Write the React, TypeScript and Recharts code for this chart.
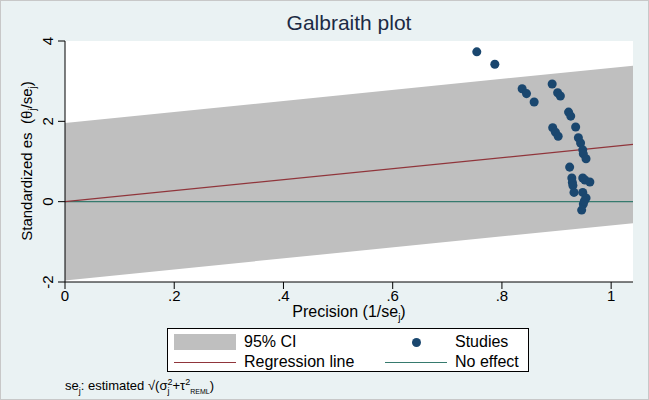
import { ComposedChart, Area, Line, Scatter, XAxis, YAxis, CartesianGrid } from 'recharts';

// study estimates: precision (1/se_j) and standardized effect (theta_j/se_j)
const studyPrecision = [
  0.754, 0.787, 0.837, 0.845, 0.859, 0.892, 0.902, 0.907,
  0.922, 0.926, 0.935, 0.893, 0.898, 0.903, 0.940, 0.944,
  0.948, 0.949, 0.954, 0.924, 0.928, 0.929, 0.930, 0.948,
  0.952, 0.961, 0.932, 0.948, 0.954, 0.949, 0.946, 0.951,
];
const studyZ = [
  3.73, 3.42, 2.81, 2.69, 2.48, 2.93, 2.71, 2.63,
  2.23, 2.13, 1.86, 1.84, 1.73, 1.63, 1.59, 1.46,
  1.29, 1.19, 1.07, 0.86, 0.59, 0.48, 0.40, 0.59,
  0.54, 0.49, 0.23, 0.23, 0.09, -0.06, -0.21, 0.02,
];

// fitted regression through origin and the 95% band around it
const regSlope = 1.37;
const ciHalf = 1.96;
const lineX = [0, 1.04];

const xTicks = [0, 0.2, 0.4, 0.6, 0.8, 1];
const yTicks = [-2, 0, 2, 4];

const NAVY = '#1a476f';
const MAROON = '#90353b';
const TEAL = '#367a6e';
const CI_GRAY = '#bfbfbf';

const points = studyPrecision.map((x, i) => ({ x, y: studyZ[i] }));
const lineData = lineX.map((x) => ({
  x,
  band: [regSlope * x - ciHalf, regSlope * x + ciHalf],
  reg: regSlope * x,
  zero: 0,
}));

const fmtX = (v: number) => (v === 0 ? '0' : v === 1 ? '1' : String(v).replace(/^0/, ''));

const YTick = ({ x, y, payload }: any) => (
  <text
    x={x - 2}
    y={y}
    transform={`rotate(-90 ${x - 2} ${y})`}
    textAnchor="middle"
    fontSize={15}
    fill="#000"
    fontFamily="Arial, 'Liberation Sans', sans-serif"
  >
    {payload.value}
  </text>
);

export default function App() {
  const font = "Arial, 'Liberation Sans', sans-serif";
  return (
    <div
      style={{
        position: 'relative',
        width: 649,
        height: 400,
        background: '#eaf2f3',
        boxShadow: 'inset 0 0 0 1px #c8c8c8',
        fontFamily: font,
        overflow: 'hidden',
      }}
    >
      <style>{'body{margin:0}'}</style>
      <div style={{ position: 'absolute', top: 11, left: 0, width: 698, textAlign: 'center', fontSize: 21, color: '#1c2a44' }}>
        Galbraith plot
      </div>

      <ComposedChart
        width={649}
        height={400}
        data={lineData}
        margin={{ top: 41, right: 16, bottom: 88, left: 0 }}
        style={{ position: 'absolute', top: 0, left: 0 }}
      >
        <CartesianGrid fill="#fff" horizontal={false} vertical={false} />
        <XAxis
          type="number"
          dataKey="x"
          domain={[0, 1.04]}
          ticks={xTicks}
          tickFormatter={fmtX}
          allowDataOverflow
          height={30}
          tickSize={7}
          tickMargin={1}
          tick={{ fontSize: 15, fill: '#000', fontFamily: font }}
          stroke="#000"
        />
        <YAxis
          type="number"
          domain={[-2, 4]}
          ticks={yTicks}
          width={65}
          tickSize={7}
          tickMargin={3}
          tick={<YTick />}
          stroke="#000"
        />
        <Area
          type="linear"
          dataKey="band"
          fill={CI_GRAY}
          fillOpacity={1}
          stroke="none"
          isAnimationActive={false}
        />
        <Line type="linear" dataKey="zero" stroke={TEAL} strokeWidth={1.2} dot={false} isAnimationActive={false} />
        <Line type="linear" dataKey="reg" stroke={MAROON} strokeWidth={1.2} dot={false} isAnimationActive={false} />
        <Scatter data={points} dataKey="y" fill={NAVY} isAnimationActive={false} />
      </ComposedChart>

      {/* y axis title */}
      <div
        style={{
          position: 'absolute',
          left: 28,
          top: 161,
          transform: 'translate(-50%, -50%) rotate(-90deg)',
          whiteSpace: 'nowrap',
          fontSize: 15,
          color: '#000',
        }}
      >
        Standardized es&nbsp;&nbsp;(θ<sub style={{ fontSize: 10 }}>j</sub>/se<sub style={{ fontSize: 10 }}>j</sub>)
      </div>

      {/* x axis title */}
      <div style={{ position: 'absolute', top: 303, left: 0, width: 698, textAlign: 'center', fontSize: 16, lineHeight: '18px', color: '#000', whiteSpace: 'nowrap' }}>
        Precision (1/se<sub style={{ fontSize: 10, lineHeight: 0 }}>j</sub>)
      </div>

      {/* legend */}
      <div
        style={{
          position: 'absolute',
          left: 167,
          top: 328,
          width: 362,
          height: 44,
          boxSizing: 'border-box',
          border: '1px solid #000',
          background: '#fff',
          fontSize: 16,
          color: '#000',
        }}
      >
        <div style={{ position: 'absolute', left: 6, top: 5, width: 62, height: 16, background: CI_GRAY }} />
        <div style={{ position: 'absolute', left: 76, top: 3, lineHeight: '19px' }}>95% CI</div>
        <div style={{ position: 'absolute', left: 244, top: 9, width: 9, height: 9, borderRadius: '50%', background: NAVY }} />
        <div style={{ position: 'absolute', left: 287, top: 3, lineHeight: '19px' }}>Studies</div>
        <div style={{ position: 'absolute', left: 6, top: 33, width: 62, height: 1.2, background: MAROON }} />
        <div style={{ position: 'absolute', left: 76, top: 23, lineHeight: '19px' }}>Regression line</div>
        <div style={{ position: 'absolute', left: 217, top: 33, width: 62, height: 1.2, background: TEAL }} />
        <div style={{ position: 'absolute', left: 287, top: 23, lineHeight: '19px' }}>No effect</div>
      </div>

      {/* footnote */}
      <div style={{ position: 'absolute', left: 65, top: 377, fontSize: 13, color: '#000', whiteSpace: 'nowrap' }}>
        se<sub style={{ fontSize: 9 }}>j</sub>: estimated √(σ
        <span style={{ display: 'inline-flex', flexDirection: 'column', fontSize: 9, lineHeight: '9px', verticalAlign: 'middle' }}>
          <span>2</span>
          <span>j</span>
        </span>
        +τ<sup style={{ fontSize: 9 }}>2</sup>
        <sub style={{ fontSize: 7 }}>REML</sub>)
      </div>
    </div>
  );
}
